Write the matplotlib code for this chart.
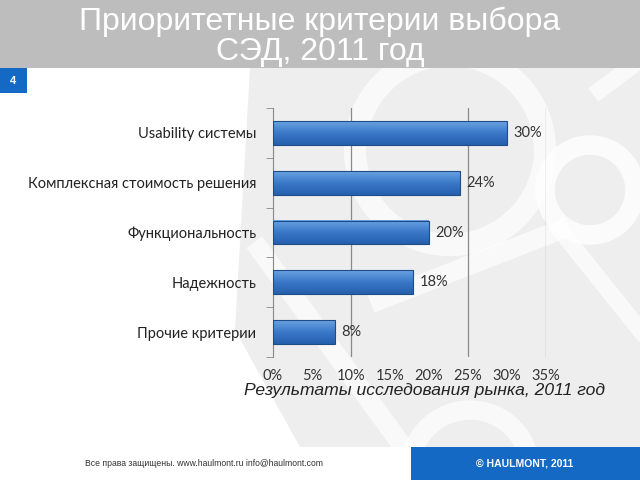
import matplotlib.pyplot as plt
import matplotlib.patches as mpatches
import numpy as np

categories = ["Usability системы", "Комплексная стоимость решения",
              "Функциональность", "Надежность", "Прочие критерии"]
values = [30, 24, 20, 18, 8]
ticks = [0, 5, 10, 15, 20, 25, 30, 35]
grid_at = [10, 25, 35]

title = "Приоритетные критерии выбора\nСЭД, 2011 год"
subtitle = "Результаты исследования рынка, 2011 год"
footer_left = "Все права защищены. www.haulmont.ru info@haulmont.com"
footer_right = "© HAULMONT, 2011"

fig = plt.figure(figsize=(6.4, 4.8), dpi=100)
fig.patch.set_facecolor("white")

# background decoration (slide template)
bg = fig.add_axes([0, 0, 1, 1], zorder=-5)
bg.set_xlim(0, 640)
bg.set_ylim(480, 0)
bg.axis("off")
bg.add_patch(mpatches.Polygon([[250, 68], [640, 68], [640, 447], [300, 447], [235, 330]],
                              closed=True, fc="#eeeeee", ec="none"))
bg.add_patch(mpatches.Circle((590, 190), 45, fc="none", ec="white", lw=14, alpha=0.8))
bg.add_patch(mpatches.Circle((450, 150), 95, fc="none", ec="white", lw=16, alpha=0.7))
bg.add_patch(mpatches.Circle((470, 470), 60, fc="none", ec="white", lw=14, alpha=0.7))
bg.plot([260, 420], [250, 470], color="white", lw=14, alpha=0.7)
bg.plot([380, 560], [300, 230], color="white", lw=14, alpha=0.7)
bg.plot([560, 640], [230, 330], color="white", lw=12, alpha=0.7)
bg.plot([600, 640], [90, 60], color="white", lw=12, alpha=0.7)

# header band
bg.add_patch(mpatches.Rectangle((0, 0), 640, 68, fc="#bdbdbd", ec="none", zorder=5))
bg.text(320, 37, title, color="white", fontsize=23, ha="center", va="center",
        family="Liberation Sans", linespacing=1.02, zorder=6)
bg.add_patch(mpatches.Rectangle((0, 68), 27, 25, fc="#1469c4", ec="none", zorder=5))
bg.text(13.5, 81, "4", color="white", fontsize=8, fontweight="bold",
        ha="center", va="center", family="Liberation Sans", zorder=6)

# footer
bg.add_patch(mpatches.Rectangle((411, 447), 229, 33, fc="#1469c4", ec="none", zorder=5))
bg.text(525, 463, footer_right, color="white", fontsize=7.5, fontweight="bold",
        ha="center", va="center", family="Liberation Sans", zorder=6)
bg.text(323, 463, footer_left, color="#333333", fontsize=6.2,
        ha="right", va="center", family="Liberation Sans", zorder=6)
bg.text(605, 391, subtitle, color="#222222", fontsize=12.6, style="italic",
        ha="right", va="center", family="Liberation Sans", zorder=6)

# chart
ax = fig.add_axes([273 / 640, 1 - 357 / 480, 273 / 640, 249 / 480])
ax.patch.set_alpha(0)
y = np.arange(len(categories))
h = 0.48
grad = np.linspace(0, 1, 50).reshape(-1, 1)
cmap = plt.matplotlib.colors.LinearSegmentedColormap.from_list(
    "b", ["#6aa3e2", "#3a78c8", "#2660ad"])
for yi, v in zip(y, values):
    ax.imshow(grad, cmap=cmap, extent=[0, v, yi + h / 2, yi - h / 2],
              aspect="auto", zorder=3)
    ax.add_patch(mpatches.Rectangle((0, yi - h / 2), v, h, fc="none",
                                    ec="#1d4c86", lw=0.8, zorder=4))
    ax.text(v + 0.8, yi, f"{v}%", va="center", ha="left", fontsize=10.5,
            color="#333333", family="Lato")

ax.set_xlim(0, 35)
ax.set_ylim(len(categories) - 0.5, -0.5)
ax.set_xticks(ticks)
ax.set_xticklabels([f"{t}%" for t in ticks], fontsize=10.5, color="#333333", family="Lato")
ax.set_yticks(y)
ax.set_yticklabels(categories, fontsize=10.5, color="#222222", family="Lato")
ax.set_yticks(np.arange(-0.5, len(categories), 1), minor=True)
ax.tick_params(axis="y", which="major", length=0, pad=12)
ax.tick_params(axis="y", which="minor", length=5, color="#888888", direction="out")
ax.tick_params(axis="x", length=0, pad=9)
for g in grid_at:
    ax.axvline(g, color="#8a8a8a", lw=0.9, zorder=1)
for s in ["top", "right", "bottom"]:
    ax.spines[s].set_visible(False)
ax.spines["left"].set_color("#888888")

fig.savefig("out.png", dpi=100)
